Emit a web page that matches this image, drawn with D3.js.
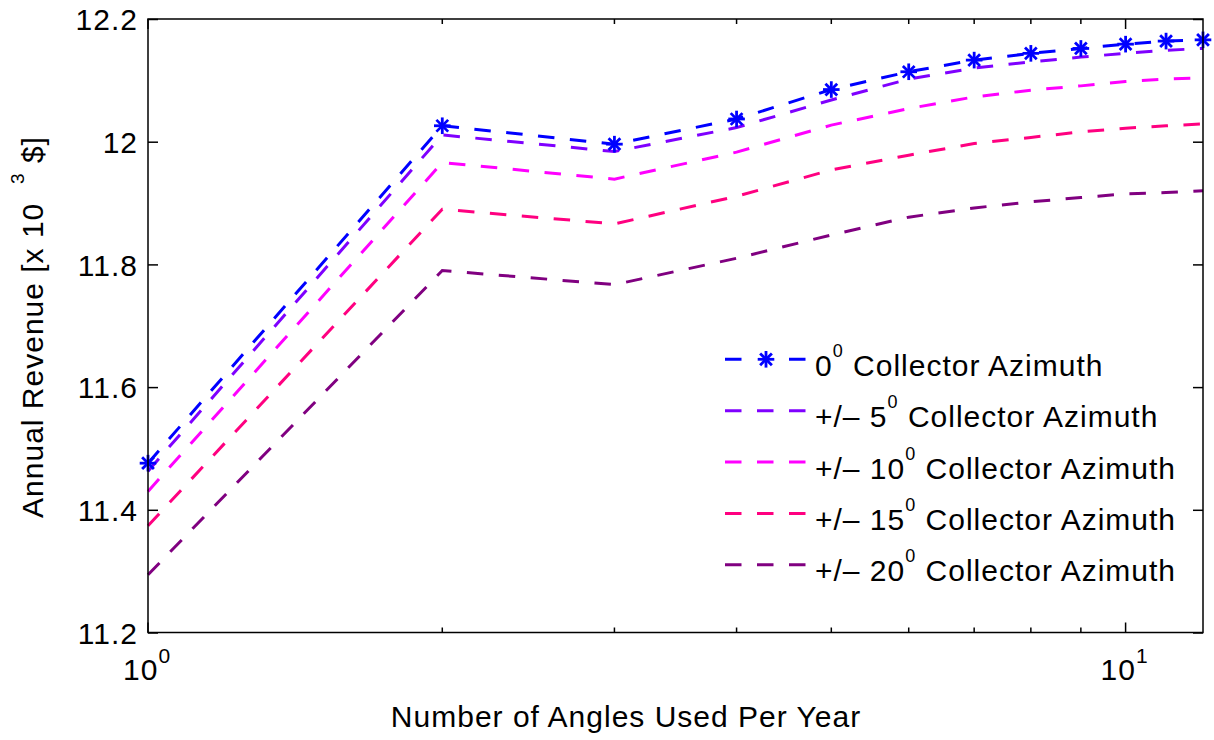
<!DOCTYPE html>
<html>
<head>
<meta charset="utf-8">
<script src="https://cdn.jsdelivr.net/npm/d3@7"></script>
<style>
  html, body { margin: 0; padding: 0; background: #fff; }
  svg { display: block; font-family: "Liberation Sans", Arial, Helvetica, sans-serif; }
  svg text { letter-spacing: 1px; }
</style>
</head>
<body>
<svg id="chart" width="1214" height="740"></svg>
<script>
// Number of tilt angles used per year
const angles = [1, 2, 3, 4, 5, 6, 7, 8, 9, 10, 11, 12];

// Annual revenue (x 10^3 $) for each collector azimuth offset
const az0  = [11.476, 12.026, 11.996, 12.037, 12.085, 12.114, 12.133, 12.144, 12.152, 12.159, 12.164, 12.166];
const az5  = [11.463, 12.011, 11.984, 12.023, 12.068, 12.102, 12.120, 12.130, 12.138, 12.144, 12.149, 12.152];
const az10 = [11.430, 11.966, 11.939, 11.983, 12.027, 12.054, 12.073, 12.084, 12.091, 12.098, 12.102, 12.104];
const az15 = [11.374, 11.890, 11.866, 11.911, 11.954, 11.978, 11.997, 12.007, 12.016, 12.022, 12.026, 12.029];
const az20 = [11.294, 11.790, 11.767, 11.810, 11.848, 11.877, 11.892, 11.902, 11.909, 11.915, 11.917, 11.920];

const seriesNames = ["0", "+/\u2013 5", "+/\u2013 10", "+/\u2013 15", "+/\u2013 20"];
const seriesColors = ["#0000ff", "#7f00ff", "#ff00ff", "#ff0080", "#800080"];
const seriesValues = [az0, az5, az10, az15, az20];

const yTicks = [11.2, 11.4, 11.6, 11.8, 12, 12.2];
const yTickLabels = ["11.2", "11.4", "11.6", "11.8", "12", "12.2"];
const xMajorTicks = [1, 10];
const xMajorExponents = ["0", "1"];
const xMinorTicks = [2, 3, 4, 5, 6, 7, 8, 9];

const svg = d3.select("#chart");
const L = 148, R = 1203, T = 19, B = 632.5;

const x = d3.scaleLog().domain([1, 12]).range([L, R]);
const y = d3.scaleLinear().domain([11.2, 12.2]).range([B, T]);

const axisColor = "#000";
const FS = 30;
const g = svg.append("g");

// Data lines
const line = d3.line().x((d, i) => x(angles[i])).y(d => y(d));
seriesValues.forEach((vals, k) => {
  g.append("path")
    .attr("d", line(vals))
    .attr("fill", "none")
    .attr("stroke", seriesColors[k])
    .attr("stroke-width", 3)
    .attr("stroke-dasharray", "16.5,15.5");
});

// Asterisk markers on the 0 degree series
function asterisk(sel, cx, cy, r, color) {
  const a = r * Math.SQRT1_2;
  const segs = [[0, -r, 0, r], [-r, 0, r, 0], [-a, -a, a, a], [-a, a, a, -a]];
  segs.forEach(s => {
    sel.append("line")
      .attr("x1", cx + s[0]).attr("y1", cy + s[1])
      .attr("x2", cx + s[2]).attr("y2", cy + s[3])
      .attr("stroke", color).attr("stroke-width", 2.8);
  });
}
const markers = g.append("g");
az0.forEach((v, i) => asterisk(markers, x(angles[i]), y(v), 8.3, seriesColors[0]));

// Axes box
g.append("rect")
  .attr("x", L).attr("y", T).attr("width", R - L).attr("height", B - T)
  .attr("fill", "none").attr("stroke", axisColor).attr("stroke-width", 1.5);

// Y ticks (left and right, pointing inward)
const yAxisLeft = d3.axisLeft(y).tickValues(yTicks).tickSize(-10).tickFormat((d, i) => yTickLabels[i]).tickPadding(10);
const yl = g.append("g").attr("transform", `translate(${L},0)`).call(yAxisLeft);
yl.select(".domain").remove();
yl.selectAll(".tick line").attr("stroke", axisColor).attr("stroke-width", 1.5);
yl.selectAll(".tick text").attr("font-size", FS).attr("fill", "#000")
  .attr("font-family", "Liberation Sans, Arial, sans-serif").attr("dy", "0.36em");

const yAxisRight = d3.axisRight(y).tickValues(yTicks).tickSize(-10).tickFormat("");
const yr = g.append("g").attr("transform", `translate(${R},0)`).call(yAxisRight);
yr.select(".domain").remove();
yr.selectAll(".tick line").attr("stroke", axisColor).attr("stroke-width", 1.5);

// X ticks (bottom and top, pointing inward)
[[B, -1], [T, 1]].forEach(([yy, dir]) => {
  xMajorTicks.forEach(t => {
    g.append("line").attr("x1", x(t)).attr("x2", x(t))
      .attr("y1", yy).attr("y2", yy + dir * 10)
      .attr("stroke", axisColor).attr("stroke-width", 1.5);
  });
  xMinorTicks.forEach(t => {
    g.append("line").attr("x1", x(t)).attr("x2", x(t))
      .attr("y1", yy).attr("y2", yy + dir * 5)
      .attr("stroke", axisColor).attr("stroke-width", 1.5);
  });
});

// X tick labels as powers of ten
xMajorTicks.forEach((t, i) => {
  const tx = g.append("text")
    .attr("x", x(t) - 25).attr("y", 680)
    .attr("text-anchor", "start")
    .attr("font-size", FS).attr("fill", "#000");
  tx.append("tspan").text("10");
  tx.append("tspan").attr("dy", -17).attr("font-size", 21).text(xMajorExponents[i]);
});

// Axis titles
g.append("text")
  .attr("x", 626).attr("y", 727)
  .attr("text-anchor", "middle")
  .attr("font-size", FS).attr("fill", "#000")
  .text("Number of Angles Used Per Year");

const yt = g.append("text")
  .attr("transform", "translate(43,327) rotate(-90)")
  .attr("text-anchor", "middle")
  .attr("font-size", FS).attr("fill", "#000")
  .attr("xml:space", "preserve");
yt.append("tspan").text("Annual Revenue [x 10  ");
yt.append("tspan").attr("dy", -19).attr("font-size", 19).text("3");
yt.append("tspan").attr("dy", 19).text(" $]");

// Legend
const legX0 = 725, legX1 = 807, legTextX = 815;
const legY = [359.3, 410.7, 462, 513.4, 564.8];
const leg = g.append("g");
seriesNames.forEach((name, k) => {
  const ly = legY[k];
  leg.append("line")
    .attr("x1", legX0).attr("x2", legX1).attr("y1", ly).attr("y2", ly)
    .attr("stroke", seriesColors[k]).attr("stroke-width", 3)
    .attr("stroke-dasharray", "16.5,15.5");
  if (k === 0) {
    leg.append("rect").attr("x", legX0 + 31).attr("y", ly - 3).attr("width", 20).attr("height", 6).attr("fill", "#fff");
    asterisk(leg, (legX0 + legX1) / 2, ly, 8.3, seriesColors[0]);
  }
  const t = leg.append("text")
    .attr("x", legTextX).attr("y", ly + 16.5)
    .attr("font-size", FS).attr("fill", "#000");
  t.append("tspan").text(name);
  t.append("tspan").attr("dy", -19).attr("font-size", 18).text("0");
  t.append("tspan").attr("dy", 19).text(" Collector Azimuth");
});
</script>
</body>
</html>
